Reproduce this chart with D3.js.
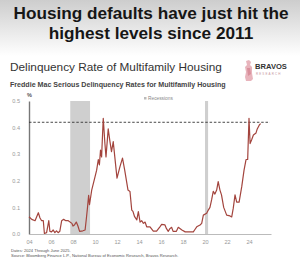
<!DOCTYPE html>
<html><head><meta charset="utf-8">
<script src="https://cdn.jsdelivr.net/npm/d3@7"></script>
<style>html,body{margin:0;padding:0;background:#fff;}svg{display:block;}</style>
</head><body><svg id="c" width="300" height="263"></svg>
<script>
const years = [2004.00,2004.25,2004.55,2004.85,2005.00,2005.15,2005.30,2005.40,2005.60,2005.80,2005.90,2006.05,2006.20,2006.35,2006.50,2006.65,2006.80,2006.97,2007.15,2007.35,2007.57,2007.90,2008.00,2008.15,2008.30,2008.45,2008.60,2008.90,2009.10,2009.22,2009.32,2009.42,2009.50,2009.70,2010.00,2010.15,2010.30,2010.40,2010.50,2010.60,2010.75,2010.90,2011.00,2011.20,2011.36,2011.50,2011.66,2011.80,2012.00,2012.27,2012.50,2012.70,2013.00,2013.18,2013.34,2013.45,2013.60,2013.80,2013.94,2014.10,2014.25,2014.40,2014.55,2014.70,2015.00,2015.30,2015.60,2015.90,2016.06,2016.36,2016.50,2016.66,2016.80,2016.97,2017.10,2017.40,2017.57,2017.90,2018.20,2018.60,2018.94,2019.10,2019.25,2019.55,2019.70,2019.85,2020.15,2020.30,2020.45,2020.60,2020.75,2020.90,2021.06,2021.20,2021.36,2021.50,2021.70,2021.97,2022.27,2022.43,2022.57,2022.73,2022.88,2023.10,2023.34,2023.55,2023.73,2023.88,2024.00,2024.10,2024.25,2024.40,2024.64,2024.75,2024.94,2025.06];
const rates = [0.065,0.055,0.050,0.080,0.060,0.050,0.050,0.002,0.005,0.050,0.010,0.008,0.015,0.005,0.012,0.005,0.010,0.050,0.055,0.050,0.050,0.040,0.030,0.035,0.045,0.030,0.010,0.012,0.015,0.060,0.100,0.145,0.110,0.165,0.215,0.240,0.280,0.260,0.315,0.290,0.435,0.340,0.290,0.395,0.347,0.310,0.347,0.290,0.210,0.253,0.285,0.240,0.165,0.160,0.090,0.085,0.065,0.053,0.084,0.045,0.050,0.040,0.045,0.027,0.027,0.011,0.011,0.027,0.036,0.034,0.020,0.010,0.020,0.025,0.010,0.010,0.025,0.015,0.008,0.008,0.008,0.018,0.027,0.034,0.040,0.071,0.078,0.090,0.100,0.128,0.160,0.150,0.165,0.197,0.165,0.147,0.100,0.071,0.068,0.064,0.097,0.147,0.120,0.120,0.178,0.240,0.280,0.280,0.435,0.340,0.355,0.372,0.380,0.395,0.410,0.415];
const recessionStart = [2007.75, 2020.0];
const recessionEnd = [2009.55, 2020.28];
const yTicks = [0, 0.1, 0.2, 0.3, 0.4, 0.5];
const xTickYears = [2004,2006,2008,2010,2012,2014,2016,2018,2020,2022,2024];
const refLevel = 0.42;
const titleLines = ["Housing defaults have just hit the", "highest levels since 2011"];

const svg = d3.select("#c");
const defs = svg.append("defs");
const g = defs.append("linearGradient").attr("id","bg").attr("x1",0).attr("y1",0).attr("x2",0).attr("y2",1);
g.append("stop").attr("offset","0%").attr("stop-color","#cdcdcd");
g.append("stop").attr("offset","100%").attr("stop-color","#ffffff");
svg.append("rect").attr("width",300).attr("height",56).attr("fill","url(#bg)");

svg.selectAll("text.title").data(titleLines).join("text")
  .attr("x",151).attr("y",(d,i)=>19+i*19.5).attr("text-anchor","middle")
  .attr("font-family","Liberation Sans, Arial, sans-serif").attr("font-weight","bold")
  .attr("font-size",17.2).attr("fill","#161616").text(d=>d);

svg.append("text").attr("x",10).attr("y",71).attr("font-family","Liberation Sans, Arial, sans-serif")
  .attr("font-size",11.8).attr("fill","#333").text("Delinquency Rate of Multifamily Housing");
svg.append("text").attr("x",10).attr("y",87).attr("font-family","Liberation Sans, Arial, sans-serif")
  .attr("font-size",7.1).attr("font-weight","bold").attr("fill","#444").text("Freddie Mac Serious Delinquency Rates for Multifamily Housing");

// logo
const logo = svg.append("g").attr("transform","translate(244,60)");
logo.append("path").attr("d","M2,1 L5,0 L7,2 L6,5 L8,7 L8,13 L9,19 L7,21 L2,21 L1,17 L2,12 L1,7 L3,5 Z").attr("fill","#e8b4bc");
logo.append("path").attr("d","M3,8 L6,8 L7,14 L4,16 Z").attr("fill","#d98f9b");
svg.append("text").attr("x",255).attr("y",69).attr("font-family","Liberation Sans, Arial, sans-serif")
  .attr("font-size",7.6).attr("font-weight","bold").attr("fill","#333").text("BRAVOS");
svg.append("text").attr("x",256).attr("y",74.5).attr("font-family","Liberation Sans, Arial, sans-serif")
  .attr("font-size",3).attr("letter-spacing",1.1).attr("fill","#c99aa2").text("RESEARCH");

const x = d3.scaleLinear().domain([2004, 2026]).range([29, 271]);
const y = d3.scaleLinear().domain([0, 0.5]).range([234, 101]);

// recessions
svg.selectAll("rect.rec").data(recessionStart).join("rect")
  .attr("x",(d)=>x(d)).attr("width",(d,i)=>x(recessionEnd[i])-x(d))
  .attr("y",y(0.5)).attr("height",y(0)-y(0.5)).attr("fill","#cfcfcf");

// axes
const yAxis = d3.axisLeft(y).tickValues(yTicks).tickFormat(d3.format(".1f")).tickSize(0).tickPadding(9);
const ya = svg.append("g").attr("transform",`translate(${x(2004)},0)`).call(yAxis);
ya.select(".domain").attr("stroke","#777").attr("stroke-width",1.4);
ya.selectAll("text").attr("font-family","Liberation Sans, Arial, sans-serif").attr("font-size",5.6).attr("fill","#999");

const xAxis = d3.axisBottom(x).tickValues(xTickYears).tickFormat(d=>String(d).slice(2)).tickSize(0).tickPadding(6);
const xa = svg.append("g").attr("transform",`translate(0,${y(0)})`).call(xAxis);
xa.select(".domain").attr("stroke","#aaa").attr("stroke-width",0.8);
xa.selectAll("text").attr("font-family","Liberation Sans, Arial, sans-serif").attr("font-size",5.6).attr("fill","#999");

svg.append("text").attr("x",27).attr("y",97).attr("font-family","Liberation Sans, Arial, sans-serif")
  .attr("font-size",5.5).attr("font-weight","bold").attr("fill","#555").text("%");

// legend
svg.append("rect").attr("x",144).attr("y",97).attr("width",2.5).attr("height",2.5).attr("fill","#bbb");
svg.append("text").attr("x",148).attr("y",99.8).attr("font-family","Liberation Sans, Arial, sans-serif")
  .attr("font-size",4.8).attr("fill","#888").text("Recessions");

// dashed reference
svg.append("line").attr("x1",x(2004)).attr("x2",x(2025.9)).attr("y1",y(refLevel)).attr("y2",y(refLevel))
  .attr("stroke","#333").attr("stroke-width",0.9).attr("stroke-dasharray","2.5,1.8");

const data = years.map((yr,i)=>({yr, v:rates[i]}));
svg.append("path").datum(data).attr("fill","none").attr("stroke","#a3443d").attr("stroke-width",1.2)
  .attr("stroke-linejoin","round")
  .attr("d", d3.line().x(d=>x(d.yr)).y(d=>y(d.v)));

svg.append("text").attr("x",11).attr("y",252).attr("font-family","Liberation Sans, Arial, sans-serif")
  .attr("font-size",4.1).attr("fill","#555").text("Dates: 2024 Through June 2025.");
svg.append("text").attr("x",11).attr("y",256.5).attr("font-family","Liberation Sans, Arial, sans-serif")
  .attr("font-size",4.1).attr("fill","#555").text("Source: Bloomberg Finance L.P., National Bureau of Economic Research, Bravos Research.");
</script></body></html>
